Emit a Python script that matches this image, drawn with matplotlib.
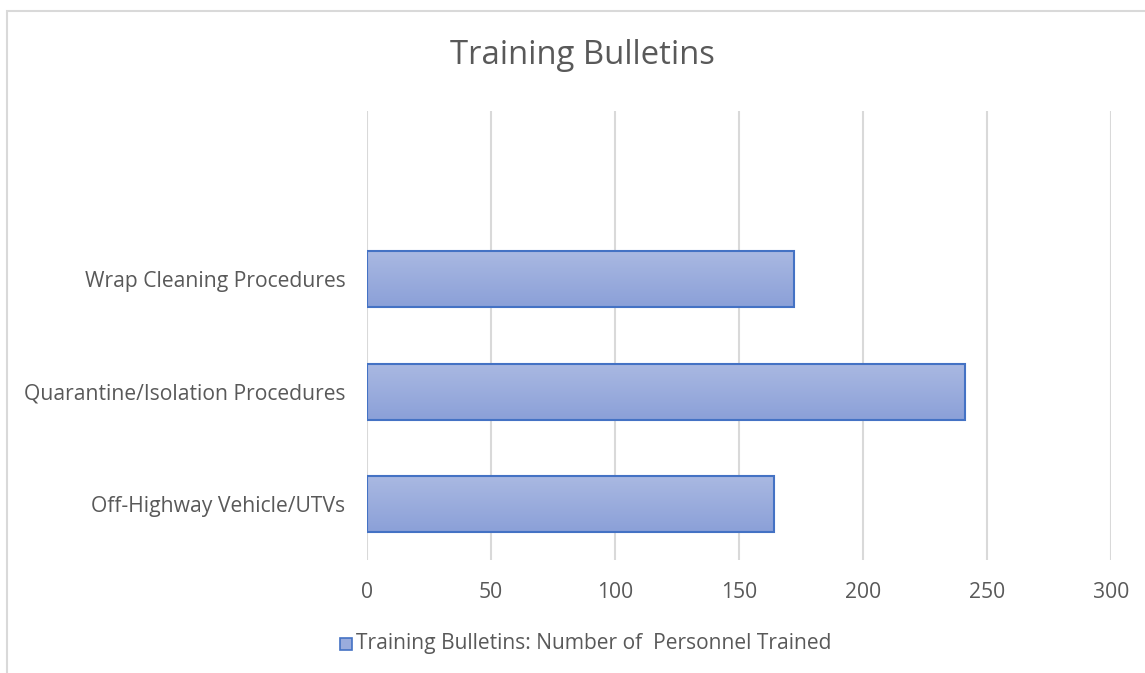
import numpy as np
import matplotlib
matplotlib.use('Agg')
import matplotlib.pyplot as plt
from matplotlib.patches import Rectangle
from matplotlib.colors import LinearSegmentedColormap

categories = ['Off-Highway Vehicle/UTVs', 'Quarantine/Isolation Procedures', 'Wrap Cleaning Procedures']
personnel = [164, 241, 172]
x_ticks = [0, 50, 100, 150, 200, 250, 300]
series_name = 'Training Bulletins: Number of  Personnel Trained'
title = 'Training Bulletins'

TEXT = '#595959'
GRID = '#d9d9d9'
EDGE = '#4472c4'

plt.rcParams['font.family'] = ['Open Sans', 'DejaVu Sans']

fig = plt.figure(figsize=(11.45, 6.73), dpi=100)
ax = fig.add_axes([367 / 1145, 113 / 673, 744 / 1145, 449 / 673])

# outer chart border (cut off on right and bottom)
fig.patches.append(Rectangle((7 / 1145, -0.1), 1.2, (673 - 11) / 673 + 0.1,
                             transform=fig.transFigure, fill=False,
                             edgecolor=GRID, linewidth=1.5))

ypos = np.arange(len(categories))
bars = ax.barh(ypos, personnel, height=0.5, color='none', edgecolor=EDGE, linewidth=1.5, zorder=3)

# vertical gradient fill inside each bar, light on top
cmap = LinearSegmentedColormap.from_list('grad', ['#8ba0d8', '#aab9e2'])
grad = np.linspace(0, 1, 256).reshape(-1, 1)
for b in bars:
    x0, y0, w, h = b.get_x(), b.get_y(), b.get_width(), b.get_height()
    im = ax.imshow(grad, cmap=cmap, aspect='auto', extent=(x0, x0 + w, y0, y0 + h),
                   origin='lower', zorder=2)
    im.set_clip_path(b)

ax.set_xlim(0, 300)
ax.set_ylim(-0.5, 3.5)
ax.set_xticks(x_ticks)
ax.set_yticks(ypos)
ax.set_yticklabels(categories)
ax.grid(axis='x', color=GRID, linewidth=1.5, zorder=0)
ax.set_axisbelow(True)
for s in ax.spines.values():
    s.set_visible(False)
ax.tick_params(axis='both', length=0, labelsize=15.2, colors=TEXT)
ax.tick_params(axis='x', pad=16)
ax.tick_params(axis='y', pad=15.5)

fig.text(582 / 1145, 1 - 56 / 673, title, ha='center', va='center', fontsize=23.7, color=TEXT)

# legend
fig.patches.append(Rectangle((340 / 1145, 1 - 650 / 673), 12 / 1145, 12 / 673,
                             transform=fig.transFigure, facecolor='#9aacdd',
                             edgecolor=EDGE, linewidth=1.2))
fig.text(356 / 1145, 1 - 644 / 673, series_name, ha='left', va='center', fontsize=15.1, color=TEXT)

fig.savefig('out.png', dpi=100)
